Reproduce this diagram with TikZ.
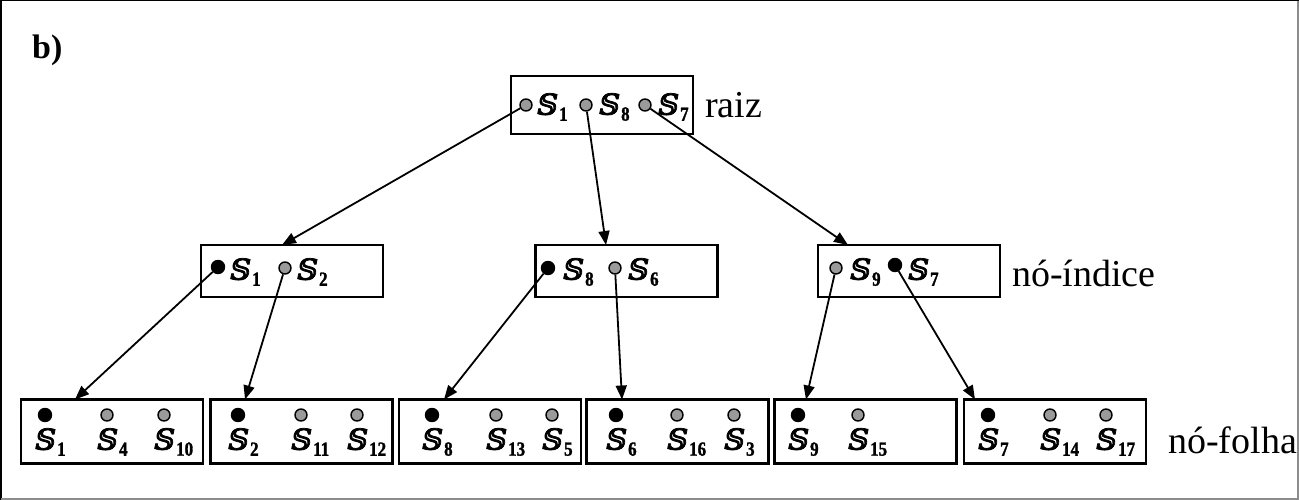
\documentclass[tikz,border=0pt]{standalone}
\usepackage{fontspec}
\setmainfont{Liberation Serif}
\newfontfamily\dsfont[FakeSlant=0.2,FakeBold=2.5]{DejaVu Serif}
\newfontfamily\subfont[FakeStretch=0.85,FakeBold=1.5]{Liberation Serif}
\usetikzlibrary{arrows.meta}
\definecolor{dotgray}{HTML}{9A9A9A}
\definecolor{framegray}{HTML}{8C8C8C}
% key symbol with a bold subscript
\newcommand{\sv}[1]{{\fontsize{29}{30}\dsfont 𝕊}\kern3pt\raisebox{-6pt}{\fontsize{20}{22}\subfont\bfseries #1}}
\tikzset{
  box/.style={draw, line width=2.2pt, minimum width=182pt, inner sep=0pt},
  rootbox/.style={box, minimum height=58pt},
  idxbox/.style={box, minimum height=52pt},
  leafbox/.style={box, minimum height=64pt},
  gdot/.style={circle, draw, line width=1.4pt, fill=dotgray, minimum size=12pt, inner sep=0pt},
  bdot/.style={circle, draw, line width=1.4pt, fill=black, minimum size=13pt, inner sep=0pt},
  key/.style={anchor=west, inner sep=0pt},
  lvl/.style={font=\fontsize{38}{40}\selectfont, anchor=west, inner sep=0pt},
  ptr/.style={line width=1.8pt, -{Triangle[length=14pt,width=11pt]}}
}
\begin{document}
\begin{tikzpicture}[x=1pt,y=-1pt]
\useasboundingbox (0,0) rectangle (1299,500);
% outer frame
\draw[line width=1.5pt] (0.75,500) -- (0.75,0.75) -- (1299,0.75);
\draw[line width=1.5pt, framegray] (1298,0.75) -- (1298,499) -- (0.75,499);

\node[anchor=west, inner sep=0pt, font=\fontsize{34}{36}\selectfont\bfseries] (tag) at (32,50) {b)};

% root
\node[rootbox] (root) at (602,105) {};
\node[gdot] (r1) at (526,105) {}; \node[key] (rk1) at (535,107) {\sv{1}};
\node[gdot] (r2) at (586,105) {}; \node[key] (rk2) at (597,107) {\sv{8}};
\node[gdot] (r3) at (645,105) {}; \node[key] (rk3) at (656,107) {\sv{7}};
\node[lvl] (lraiz) at (705,105) {raiz};

% index nodes
\node[idxbox] (i1) at (292,271) {};
\node[bdot] (a1) at (218,267) {}; \node[key] (ak1) at (228,272) {\sv{1}};
\node[gdot] (a2) at (285,268) {}; \node[key] (ak2) at (295,272) {\sv{2}};
\node[idxbox] (i2) at (626.5,271) {};
\node[bdot] (b1) at (548,268) {}; \node[key] (bk1) at (561,272) {\sv{8}};
\node[gdot] (b2) at (615,268) {}; \node[key] (bk2) at (626,272) {\sv{6}};
\node[idxbox] (i3) at (909,271) {};
\node[gdot] (c1) at (836,268) {}; \node[key] (ck1) at (848,272) {\sv{9}};
\node[bdot] (c2) at (895,265) {}; \node[key] (ck2) at (906,272) {\sv{7}};
\node[lvl] (lidx) at (1012,273) {nó-índice};

% leaf nodes
\foreach \n/\cx in {L1/112, L2/301.5, L3/490, L4/677.5, L5/865.5, L6/1055}
  \node[leafbox] (\n) at (\cx,431.5) {};
\foreach \n/\dx/\k/\st in {
   p11/45/1/bdot, p12/107/4/gdot, p13/164/10/gdot,
   p21/238/2/bdot, p22/301/11/gdot, p23/357/12/gdot,
   p31/432/8/bdot, p32/496/13/gdot, p33/552/5/gdot,
   p41/616/6/bdot, p42/677/16/gdot, p43/734/3/gdot,
   p51/798/9/bdot, p52/858/15/gdot,
   p61/988/7/bdot, p62/1050/14/gdot, p63/1106/17/gdot}{
  \node[\st] (\n) at (\dx,415) {};
  \node[key] (\n k) at (\dx-12,442) {\sv{\k}};
}
\node[lvl] (lleaf) at (1168,440) {nó-folha};

% pointer targets on the box tops
\coordinate (t1) at (282,245);
\coordinate (t2) at (606,245);
\coordinate (t3) at (848,245);
\coordinate (u1) at (75,399.5);
\coordinate (u2) at (245,399.5);
\coordinate (u3) at (444,399.5);
\coordinate (u4) at (622,399.5);
\coordinate (u5) at (806,399.5);
\coordinate (u6) at (975,399.5);

\draw[ptr] (r1) -- (t1);
\draw[ptr] (r2) -- (t2);
\draw[ptr] (r3) -- (t3);
\draw[ptr] (a1) -- (u1);
\draw[ptr] (a2) -- (u2);
\draw[ptr] (b1) -- (u3);
\draw[ptr] (b2) -- (u4);
\draw[ptr] (c1) -- (u5);
\draw[ptr] (c2) -- (u6);
\end{tikzpicture}
\end{document}
